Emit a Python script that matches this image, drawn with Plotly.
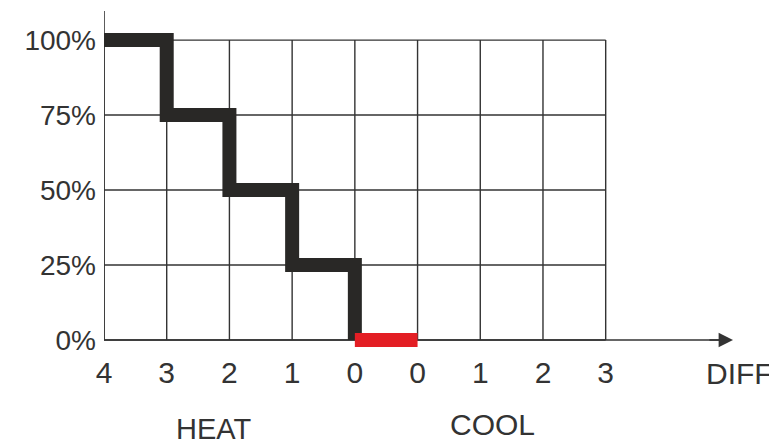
import plotly.graph_objects as go

# data
diff_positions = [0, 1, 2, 3, 4, 5, 6, 7, 8]
diff_labels = ["4", "3", "2", "1", "0", "0", "1", "2", "3"]
output_levels = [0, 25, 50, 75, 100]
output_labels = ["0%", "25%", "50%", "75%", "100%"]

heat_x = [0, 1, 2, 3, 4]
heat_output = [100, 75, 50, 25, 0]
cool_x = [4, 5]
cool_output = [0, 0]

FONT = "Liberation Sans, Arial, sans-serif"
GRID = "#333333"
X_END = 10.03
Y_TOP = 109.7

fig = go.Figure()

# grid lines
for x in diff_positions:
    fig.add_trace(go.Scatter(x=[x, x], y=[0, 100], mode="lines",
                             line=dict(color=GRID, width=1.4),
                             showlegend=False, hoverinfo="skip"))
for y in output_levels:
    fig.add_trace(go.Scatter(x=[0, 8], y=[y, y], mode="lines",
                             line=dict(color=GRID, width=1.4),
                             showlegend=False, hoverinfo="skip"))

# axis lines
fig.add_trace(go.Scatter(x=[0, 0], y=[0, Y_TOP], mode="lines",
                         line=dict(color=GRID, width=1.6),
                         showlegend=False, hoverinfo="skip"))
fig.add_trace(go.Scatter(x=[0, X_END - 0.15], y=[0, 0], mode="lines",
                         line=dict(color=GRID, width=1.6),
                         showlegend=False, hoverinfo="skip"))

# heat steps
fig.add_trace(go.Scatter(x=heat_x, y=heat_output, mode="lines", line_shape="hv",
                         line=dict(color="#292826", width=14),
                         showlegend=False, hoverinfo="skip"))
# cool
fig.add_trace(go.Scatter(x=cool_x, y=cool_output, mode="lines",
                         line=dict(color="#e31e24", width=14),
                         showlegend=False, hoverinfo="skip"))

# arrow head on the horizontal axis
fig.add_annotation(x=X_END, y=0, ax=X_END - 0.4, ay=0, xref="x", yref="y",
                   axref="x", ayref="y", text="", showarrow=True, arrowhead=2,
                   arrowsize=1.8, arrowwidth=1.6, arrowcolor=GRID)

# text labels below the axis (paper coords, since they sit outside the ranges)
label_font = dict(family=FONT, size=30, color="#333333")
fig.add_annotation(x=1.011, y=-0.062, xref="paper", yref="paper", text="DIFF",
                   xanchor="center", yanchor="middle", showarrow=False, font=label_font)
fig.add_annotation(x=1.75, y=-0.227, xref="x", yref="paper", text="HEAT",
                   xanchor="center", yanchor="middle", showarrow=False,
                   font=dict(family=FONT, size=29, color="#333333"))
fig.add_annotation(x=6.2, y=-0.214, xref="x", yref="paper", text="COOL",
                   xanchor="center", yanchor="middle", showarrow=False, font=label_font)

# page body has an 8px margin, so the figure is trimmed by 8px
fig.update_layout(
    width=769, height=438,
    margin=dict(l=96, r=44, t=3, b=94),
    plot_bgcolor="white", paper_bgcolor="white",
    showlegend=False,
    xaxis=dict(range=[0, X_END], tickvals=diff_positions, ticktext=diff_labels,
               showgrid=False, zeroline=False, showline=False, ticks="",
               tickfont=label_font, fixedrange=True),
    yaxis=dict(range=[-4, Y_TOP], tickvals=output_levels, ticktext=output_labels,
               showgrid=False, zeroline=False, showline=False, ticks="",
               tickfont=dict(family=FONT, size=28, color="#333333"),
               ticklabelstandoff=7, fixedrange=True),
)

fig.write_html("out.html")
